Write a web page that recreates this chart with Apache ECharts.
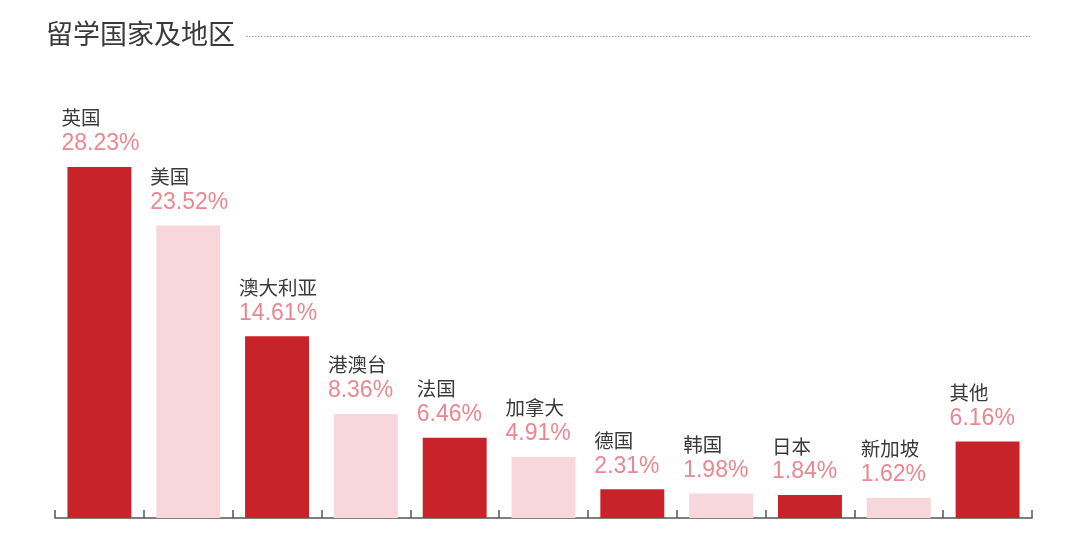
<!DOCTYPE html>
<html><head><meta charset="utf-8">
<script src="https://cdn.jsdelivr.net/npm/echarts@6/dist/echarts.min.js"></script>
<style>html,body{margin:0;padding:0;background:#fff}#c{width:1080px;height:549px}</style>
</head><body><div id="c"></div>
<script>
const titleText = '留学国家及地区';
const categories = ['英国','美国','澳大利亚','港澳台','法国','加拿大','德国','韩国','日本','新加坡','其他'];
const values = [28.23, 23.52, 14.61, 8.36, 6.46, 4.91, 2.31, 1.98, 1.84, 1.62, 6.16];
const darkRed = '#c9232a', lightPink = '#f8d7dc';

const chart = echarts.init(document.getElementById('c'));
chart.setOption({
  backgroundColor: '#fff',
  title: {
    text: titleText, left: 41, top: 15,
    textStyle: {fontFamily: 'Noto Sans CJK SC', fontSize: 27, fontWeight: 'normal', color: '#3a3a3a'}
  },
  graphic: [{
    type: 'line', shape: {x1: 246, y1: 36.5, x2: 1030, y2: 36.5},
    style: {stroke: '#9a9a9a', lineWidth: 1, lineDash: [1.5, 1.5]}
  }],
  grid: {left: 55, right: 48, top: 145, bottom: 31},
  xAxis: {
    type: 'category', data: categories, boundaryGap: true,
    axisLine: {show: true, lineStyle: {color: '#555', width: 1.5}},
    axisTick: {show: true, interval: 0, inside: true, alignWithLabel: false, length: 8, lineStyle: {color: '#555', width: 1.5}},
    axisLabel: {show: false}
  },
  yAxis: {type: 'value', min: 0, max: 30, show: false, splitLine: {show: false}},
  series: [{
    type: 'bar', barCategoryGap: '28%', z: 1,
    data: values.map((v, i) => ({value: v, itemStyle: {color: i % 2 === 0 ? darkRed : lightPink}})),
    label: {
      show: true, position: [-6, -9], align: 'left', verticalAlign: 'bottom',
      formatter: p => '{n|' + categories[p.dataIndex] + '}\n{v|' + p.value.toFixed(2) + '%}',
      rich: {
        n: {fontFamily: 'Noto Sans CJK SC', fontSize: 19.5, color: '#3a3a3a', lineHeight: 24},
        v: {fontFamily: 'Liberation Sans', fontSize: 23, color: '#ea8791', lineHeight: 28}
      }
    }
  }]
});
</script></body></html>
